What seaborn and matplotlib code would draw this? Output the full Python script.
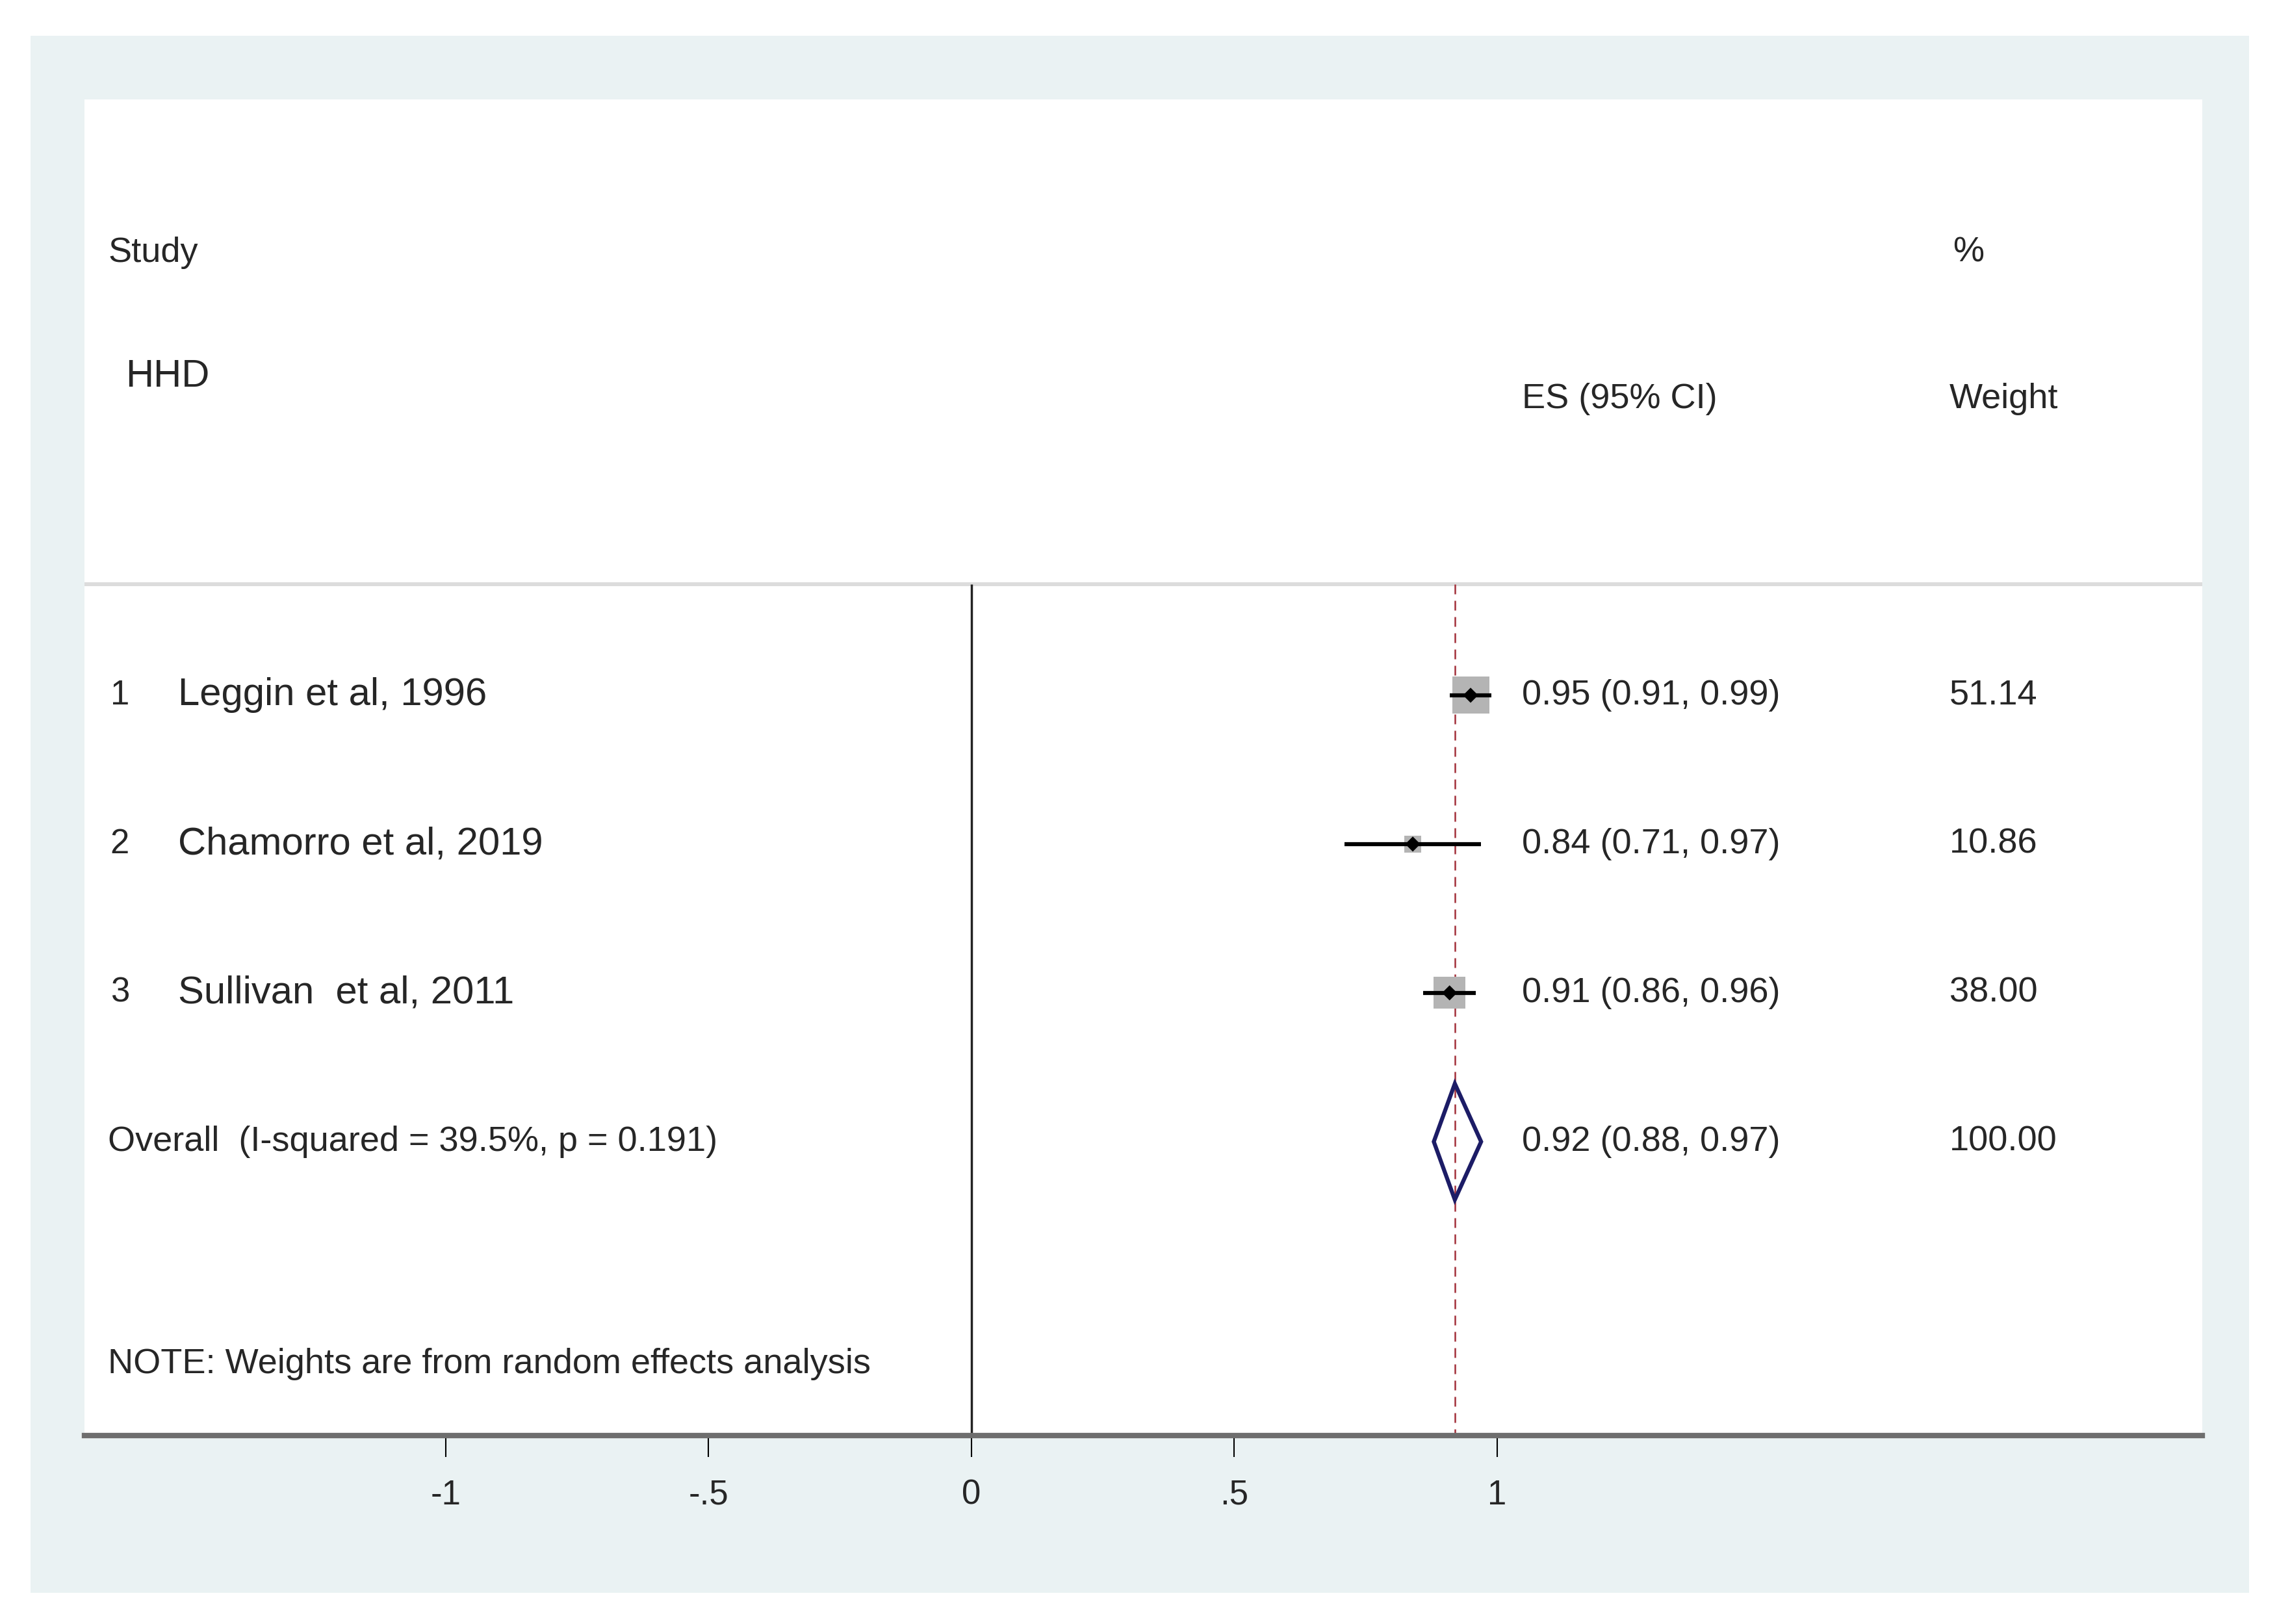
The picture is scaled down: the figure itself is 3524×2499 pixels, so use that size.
import numpy as np
import pandas as pd
import matplotlib
matplotlib.use("Agg")
import matplotlib.pyplot as plt
import seaborn as sns
from matplotlib.patches import Rectangle, Polygon

# study level estimates
studies = ["Leggin et al, 1996", "Chamorro et al, 2019", "Sullivan  et al, 2011"]
es = [0.95, 0.84, 0.91]
ci_low = [0.91, 0.71, 0.86]
ci_high = [0.99, 0.97, 0.96]
weights = [51.14, 10.86, 38.00]

# pooled estimate
overall_es = 0.92
overall_low = 0.88
overall_high = 0.97
overall_weight = 100.00
i_squared = 39.5
p_het = 0.191

group_label = "HHD"
tick_values = [-1, -0.5, 0, 0.5, 1]
tick_labels = ["-1", "-.5", "0", ".5", "1"]

df = pd.DataFrame({"study": studies, "es": es, "lo": ci_low,
                   "hi": ci_high, "weight": weights})
df["row"] = np.arange(1, len(df) + 1)
overall_row = len(df) + 1

sns.set_style("white")
plt.rcParams["font.family"] = ["Liberation Sans", "DejaVu Sans"]

fig = plt.figure(figsize=(35.24, 24.99), dpi=100, facecolor="white")
fig.patches.append(Rectangle((0.0133, 0.0192), 0.9688, 0.9588, transform=fig.transFigure,
                             facecolor="#eaf2f3", edgecolor="none", zorder=-1))
ax = fig.add_axes([0.0369, 0.1161, 0.9248, 0.8227])
ax.set_facecolor("white")

y_bottom, y_top = 5.974, -3.004
sep_y = 0.253
ax.set_xlim(-1.687, 2.342)
ax.set_ylim(y_bottom, y_top)

# header separator, null line and pooled-effect line
ax.axhline(sep_y, color="#dcdcdc", lw=4.3, zorder=1)
ax.vlines(0, sep_y, y_bottom, color="#222222", lw=2.5, zorder=1)
ax.vlines(overall_es, sep_y, y_bottom, colors="#a3303a", lw=1.8,
          linestyles=(0, (6, 4)), zorder=1)

# weight boxes (area proportional to weight)
k = 33
sns.scatterplot(data=df, x="es", y="row", size="weight",
                sizes=(df.weight.min() * k, df.weight.max() * k),
                size_norm=(df.weight.min(), df.weight.max()),
                marker="s", color="#b4b4b4", edgecolor="none", linewidth=0,
                legend=False, ax=ax, zorder=2)
# confidence intervals
ax.hlines(df.row, df.lo, df.hi, color="black", lw=4.5, zorder=3)
# point estimates
sns.scatterplot(data=df, x="es", y="row", marker="D", color="black", s=140,
                edgecolor="none", legend=False, ax=ax, zorder=4)

# pooled diamond
half_h = 0.39
diamond = Polygon([(overall_low, overall_row), (overall_es, overall_row - half_h),
                   (overall_high, overall_row), (overall_es, overall_row + half_h)],
                  closed=True, fill=False, edgecolor="#1c1c66", lw=4.5, joinstyle="miter",
                  zorder=4)
ax.add_patch(diamond)

# text columns
fs = 39
name_fs = 43
x_num, x_name, x_left, x_es, x_w = -1.638, -1.509, -1.642, 1.048, 1.861
ax.text(x_left, -1.974, "Study", fontsize=fs, va="center", ha="left")
ax.text(-1.609, -1.14, group_label, fontsize=name_fs, va="center", ha="left")
ax.text(x_es, -0.99, "ES (95% CI)", fontsize=fs, va="center", ha="left")
ax.text(x_w + 0.006, -1.974, "%", fontsize=fs, va="center", ha="left")
ax.text(x_w, -0.99, "Weight", fontsize=fs, va="center", ha="left")

for _, r in df.iterrows():
    ax.text(x_num, r.row, str(int(r.row)), fontsize=38, va="center", ha="left")
    ax.text(x_name, r.row, r.study, fontsize=name_fs, va="center", ha="left")
    ax.text(x_es, r.row, f"{r.es:.2f} ({r.lo:.2f}, {r.hi:.2f})", fontsize=fs,
            va="center", ha="left")
    ax.text(x_w, r.row, f"{r.weight:.2f}", fontsize=fs, va="center", ha="left")

ax.text(x_left, overall_row, f"Overall  (I-squared = {i_squared:.1f}%, p = {p_het:.3f})",
        fontsize=fs, va="center", ha="left")
ax.text(x_es, overall_row, f"{overall_es:.2f} ({overall_low:.2f}, {overall_high:.2f})",
        fontsize=fs, va="center", ha="left")
ax.text(x_w, overall_row, f"{overall_weight:.2f}", fontsize=fs, va="center", ha="left")
ax.text(x_left, 5.493, "NOTE: Weights are from random effects analysis",
        fontsize=fs, va="center", ha="left")

# axis styling
for side in ["top", "right", "left"]:
    ax.spines[side].set_visible(False)
ax.spines["bottom"].set_color("#6e6e6e")
ax.spines["bottom"].set_linewidth(6)
ax.set_xticks(tick_values)
ax.set_xticklabels(tick_labels)
ax.set_yticks([])
ax.tick_params(axis="x", direction="out", length=24, width=1.5, color="black",
               pad=24, labelsize=38, bottom=True)
ax.set_xlabel("")
ax.set_ylabel("")

fig.savefig("out.png", dpi=100, facecolor="white")
